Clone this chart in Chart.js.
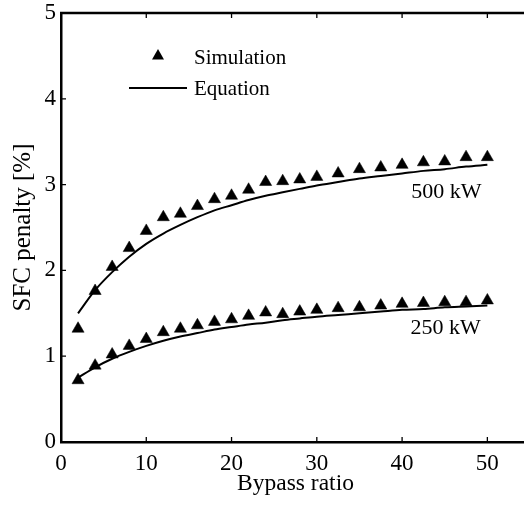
<!DOCTYPE html>
<html>
<head>
<meta charset="utf-8">
<script src="https://cdn.jsdelivr.net/npm/chart.js@4/dist/chart.umd.min.js"></script>
<style>
  html, body { margin: 0; padding: 0; background: #fff; overflow: hidden; }
  #wrap { width: 540px; height: 509px; }
</style>
</head>
<body>
<div id="wrap"><canvas id="SfcChart" width="540" height="509"></canvas></div>
<script>
const bypass = [2, 4, 6, 8, 10, 12, 14, 16, 18, 20, 22, 24, 26, 28, 30, 32.5, 35, 37.5, 40, 42.5, 45, 47.5, 50];
const sim500 = [1.32, 1.76, 2.04, 2.26, 2.46, 2.62, 2.66, 2.75, 2.83, 2.87, 2.94, 3.03, 3.04, 3.06, 3.09, 3.13, 3.18, 3.20, 3.23, 3.26, 3.27, 3.32, 3.32];
const eq500 = [1.50, 1.77, 1.98, 2.16, 2.31, 2.43, 2.53, 2.62, 2.70, 2.76, 2.82, 2.87, 2.91, 2.95, 2.99, 3.03, 3.07, 3.10, 3.13, 3.16, 3.18, 3.21, 3.23];
const sim250 = [0.72, 0.89, 1.02, 1.12, 1.20, 1.28, 1.32, 1.36, 1.40, 1.43, 1.47, 1.51, 1.49, 1.52, 1.54, 1.56, 1.57, 1.59, 1.61, 1.62, 1.63, 1.63, 1.65];
const eq250 = [0.75, 0.87, 0.97, 1.05, 1.12, 1.18, 1.23, 1.27, 1.31, 1.34, 1.37, 1.39, 1.42, 1.44, 1.46, 1.48, 1.50, 1.52, 1.54, 1.55, 1.57, 1.58, 1.59];
const xTicks = [0, 10, 20, 30, 40, 50];
const yTicks = [0, 1, 2, 3, 4, 5];
const curveLabels = [
  { text: '500 kW', x: 45.2, y: 2.91 },
  { text: '250 kW', x: 45.1, y: 1.33 },
];

const serif = 'Liberation Serif, Times New Roman, serif';

function pts(ys) {
  return bypass.map((x, i) => ({ x: x, y: ys[i] }));
}

// inward ticks, top border, legend and curve labels
const framePlugin = {
  id: 'frame',
  afterDraw(chart) {
    const ctx = chart.ctx;
    const a = chart.chartArea;
    const xs = chart.scales.x, ys = chart.scales.y;
    ctx.save();
    ctx.strokeStyle = '#000';
    ctx.lineWidth = 2.5;
    ctx.beginPath();
    ctx.moveTo(a.left - 1, a.top);
    ctx.lineTo(a.right, a.top);
    ctx.stroke();

    ctx.lineWidth = 1.3;
    ctx.beginPath();
    xTicks.forEach(v => {
      const px = xs.getPixelForValue(v);
      ctx.moveTo(px, a.bottom); ctx.lineTo(px, a.bottom - 5);
      ctx.moveTo(px, a.top); ctx.lineTo(px, a.top + 5);
    });
    yTicks.forEach(v => {
      const py = ys.getPixelForValue(v);
      ctx.moveTo(a.left, py); ctx.lineTo(a.left + 5, py);
    });
    ctx.stroke();

    // legend
    ctx.fillStyle = '#000';
    ctx.beginPath();
    ctx.moveTo(a.left + 97, a.top + 36);
    ctx.lineTo(a.left + 103, a.top + 46.5);
    ctx.lineTo(a.left + 91, a.top + 46.5);
    ctx.closePath();
    ctx.fill();
    ctx.lineWidth = 2;
    ctx.beginPath();
    ctx.moveTo(a.left + 68, a.top + 75);
    ctx.lineTo(a.left + 126, a.top + 75);
    ctx.stroke();
    ctx.font = '21px ' + serif;
    ctx.textAlign = 'left';
    ctx.textBaseline = 'alphabetic';
    ctx.fillText('Simulation', a.left + 133, a.top + 51);
    ctx.fillText('Equation', a.left + 133, a.top + 82);

    ctx.font = '22px ' + serif;
    ctx.textAlign = 'center';
    ctx.textBaseline = 'middle';
    curveLabels.forEach(l => {
      ctx.fillText(l.text, xs.getPixelForValue(l.x), ys.getPixelForValue(l.y));
    });
    ctx.restore();
  }
};

function initializeSfcChart() {
  const simStyle = {
    showLine: false,
    pointStyle: 'triangle',
    pointRadius: 7,
    pointBackgroundColor: '#000',
    pointBorderColor: '#000',
    pointBorderWidth: 0.5,
  };
  const eqStyle = {
    showLine: true,
    borderColor: '#000',
    borderWidth: 2,
    pointRadius: 0,
    tension: 0.4,
    cubicInterpolationMode: 'monotone',
  };

  const datas = {
    datasets: [
      Object.assign({ label: 'Equation 500 kW', data: pts(eq500) }, eqStyle),
      Object.assign({ label: 'Equation 250 kW', data: pts(eq250) }, eqStyle),
      Object.assign({ label: 'Simulation 500 kW', data: pts(sim500) }, simStyle),
      Object.assign({ label: 'Simulation 250 kW', data: pts(sim250) }, simStyle),
    ]
  };

  let sfc = document.getElementById('SfcChart').getContext('2d');

  new Chart(sfc, {
    type: 'scatter',
    data: datas,
    plugins: [framePlugin],
    options: {
      responsive: false,
      animation: false,
      layout: { padding: { top: 13, right: 10, left: 0, bottom: 0 } },
      plugins: {
        legend: { display: false },
        tooltip: { enabled: false },
      },
      scales: {
        x: {
          type: 'linear',
          min: 0,
          max: 55,
          afterFit: function (scale) {
            scale.height = 67;
            scale.paddingLeft = 0;
            scale.paddingRight = 0;
          },
          ticks: {
            stepSize: 10,
            includeBounds: false,
            color: '#000',
            padding: 8,
            maxRotation: 0,
            font: { family: serif, size: 23 },
          },
          grid: { display: true, drawOnChartArea: false, drawTicks: false },
          border: { color: '#000', width: 2.5 },
          title: {
            display: true,
            text: 'Bypass ratio',
            color: '#000',
            font: { family: serif, size: 23.5 },
            padding: { top: 0, bottom: 11 },
          },
        },
        y: {
          min: 0,
          max: 5,
          afterFit: function (scale) {
            scale.width = 61;
            scale.paddingTop = 0;
            scale.paddingBottom = 0;
          },
          ticks: {
            stepSize: 1,
            color: '#000',
            padding: 5,
            font: { family: serif, size: 23 },
          },
          grid: { display: true, drawOnChartArea: false, drawTicks: false },
          border: { color: '#000', width: 2.5 },
          title: {
            display: true,
            text: 'SFC penalty [%]',
            color: '#000',
            font: { family: serif, size: 25 },
            padding: { top: 8, bottom: 0 },
          },
        },
      },
    }
  });
}

initializeSfcChart();
</script>
</body>
</html>
